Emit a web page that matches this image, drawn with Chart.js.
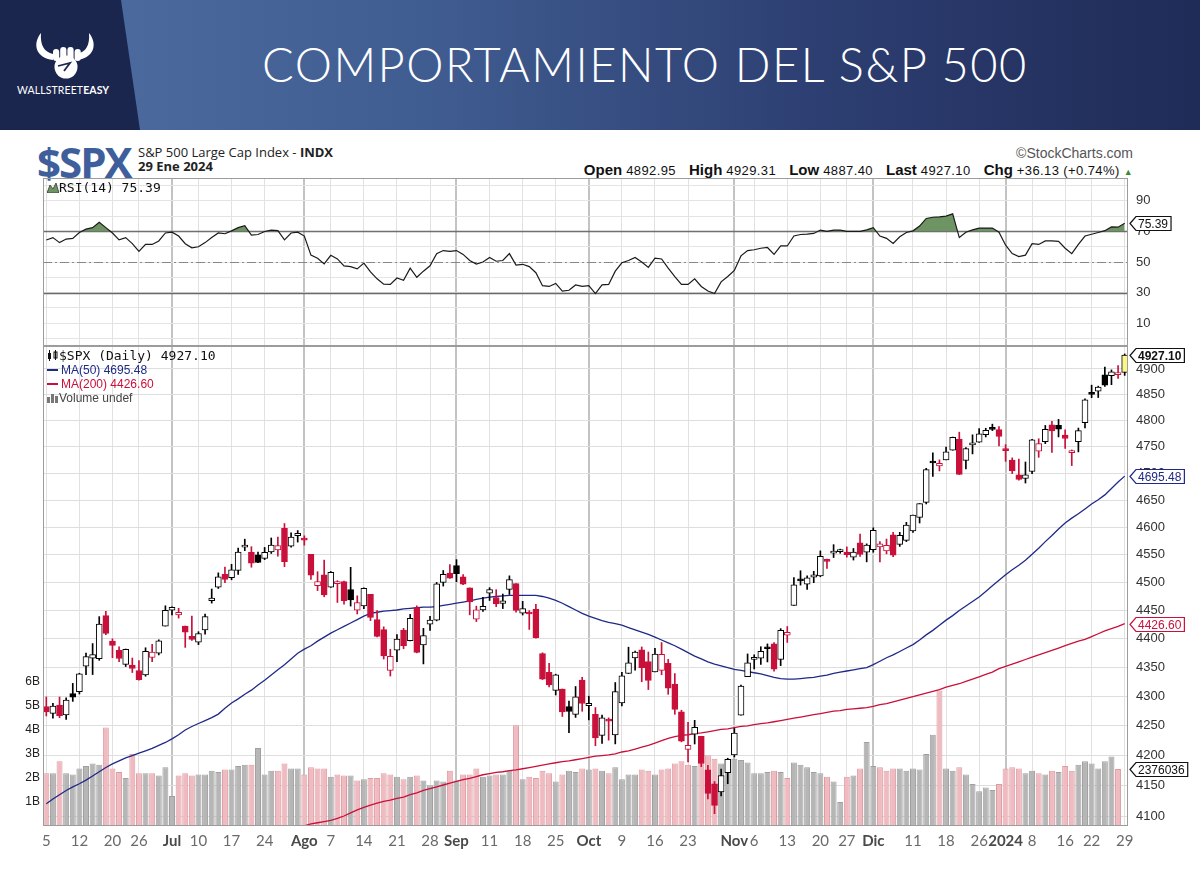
<!DOCTYPE html>
<html>
<head>
<meta charset="utf-8">
<script src="https://cdn.jsdelivr.net/npm/chart.js@4.4.1/dist/chart.umd.min.js"></script>
<style>
  body { margin: 0; width: 1200px; height: 869px; overflow: hidden; background: #fff; position: relative; font-family: "Liberation Sans", Arial, sans-serif; }
  .abs { position: absolute; }
  #hdr { left: 0; top: 0; width: 1200px; height: 130px; background: linear-gradient(90deg, #4f6ea2 0%, #405d91 35%, #2c3d70 70%, #1f2b57 100%); }
  #title { left: 262px; top: 41px; color: #fff; font: 300 47px/47px Lato, "Open Sans", sans-serif; letter-spacing: 1.5px; white-space: nowrap; }
  #brand { left: 17px; top: 84px; color: #fff; font: 10.5px Lato, sans-serif; letter-spacing: 0.1px; }
  #sym { left: 37px; top: 133px; color: #3f5f9c; font: bold 42px "Open Sans", Roboto, sans-serif; letter-spacing: -2px; }
  #name { left: 138px; top: 145px; color: #222; font: 13px "Open Sans", sans-serif; line-height: 14px; }
  #copy { right: 67px; top: 145px; color: #555; font: 14px "Liberation Sans", Arial, sans-serif; }
  #quote { right: 67px; top: 161px; color: #111; font: 13px "Liberation Sans", Arial, sans-serif; letter-spacing: 0.4px; white-space: nowrap; }
  #quote b { font: bold 15px "Liberation Sans", Arial, sans-serif; letter-spacing: 0; margin-left: 9px; }
  .leg { left: 47px; white-space: nowrap; }
  canvas { position: absolute; left: 0; }
</style>
</head>
<body>
<div id="hdr" class="abs">
  <svg width="1200" height="130" style="position:absolute;left:0;top:0">
    <polygon points="0,0 121,0 140,130 0,130" fill="#1b264f"/>
    <path d="M41,33 C32,44 36,58 53,60 L53,54 C44,52 40,45 41,33 Z" fill="#fff"/>
    <path d="M89,33 C98,44 94,58 77,60 L77,54 C86,52 90,45 89,33 Z" fill="#fff"/>
    <rect x="53" y="49" width="6.2" height="12" rx="3" fill="#fff"/>
    <rect x="60.2" y="47" width="6.2" height="14" rx="3" fill="#fff"/>
    <rect x="67.4" y="47" width="6.2" height="14" rx="3" fill="#fff"/>
    <rect x="74.6" y="49" width="6.2" height="12" rx="3" fill="#fff"/>
    <circle cx="66" cy="67" r="11.5" fill="#fff"/>
    <path d="M58,66 L70,63 L64,71" stroke="#1b264f" stroke-width="1.8" fill="none"/>
  </svg>
  <div id="title" class="abs">COMPORTAMIENTO DEL S&amp;P 500</div>
  <div id="brand" class="abs">WALLSTREET<b>EASY</b></div>
</div>

<div id="sym" class="abs">$SPX</div>
<div id="name" class="abs">S&amp;P 500 Large Cap Index - <b>INDX</b><br><b>29 Ene 2024</b></div>
<div id="copy" class="abs">&copy;StockCharts.com</div>
<div id="quote" class="abs"><b>Open</b> 4892.95 <b>High</b> 4929.31 <b>Low</b> 4887.40 <b>Last</b> 4927.10 <b>Chg</b> +36.13 (+0.74%) <span style="color:#3a8a3a;font-size:9px">&#9650;</span></div>

<canvas id="rsiChart" width="1200" height="178" style="top:172px"></canvas>
<canvas id="pxChart" width="1200" height="520" style="top:340px"></canvas>

<div class="abs leg" style="top:180px;font:13px 'DejaVu Sans Mono',monospace;color:#111">
  <svg width="12" height="11" style="vertical-align:-1px"><polygon points="0,11 3,3 6,7 9,1 12,11" fill="#6f9463" stroke="#333" stroke-width="0.8"/></svg>RSI(14) 75.39</div>
<div class="abs leg" style="top:348px;font:13px 'DejaVu Sans Mono',monospace;color:#111">
  <svg width="12" height="11" style="vertical-align:-1px"><rect x="1" y="3" width="3" height="6" fill="#111"/><line x1="2.5" y1="0" x2="2.5" y2="11" stroke="#111"/><rect x="7" y="2" width="3" height="6" fill="#fff" stroke="#111"/><line x1="8.5" y1="0" x2="8.5" y2="10" stroke="#111"/></svg>$SPX (Daily) 4927.10</div>
<div class="abs leg" style="top:363px;font:12px 'Liberation Sans',Arial;color:#1f2a86"><span style="display:inline-block;width:11px;height:2px;background:#1f2a86;vertical-align:3px;margin-right:3px"></span>MA(50) 4695.48</div>
<div class="abs leg" style="top:377px;font:12px 'Liberation Sans',Arial;color:#c9103b"><span style="display:inline-block;width:11px;height:2px;background:#c9103b;vertical-align:3px;margin-right:3px"></span>MA(200) 4426.60</div>
<div class="abs leg" style="top:391px;font:12px 'Liberation Sans',Arial;color:#444">
  <svg width="12" height="10" style="vertical-align:-1px"><rect x="0" y="4" width="3" height="6" fill="#777"/><rect x="4" y="1" width="3" height="9" fill="#777"/><rect x="8" y="3" width="3" height="7" fill="#777"/></svg>Volume undef</div>

<script>
// trading days shown (5 Jun 2023 - 29 Jan 2024)
const dates = [
  '2023-06-05','2023-06-06','2023-06-07','2023-06-08','2023-06-09','2023-06-12','2023-06-13','2023-06-14','2023-06-15','2023-06-16',
  '2023-06-20','2023-06-21','2023-06-22','2023-06-23','2023-06-26','2023-06-27','2023-06-28','2023-06-29','2023-06-30',
  '2023-07-03','2023-07-05','2023-07-06','2023-07-07','2023-07-10','2023-07-11','2023-07-12','2023-07-13','2023-07-14','2023-07-17',
  '2023-07-18','2023-07-19','2023-07-20','2023-07-21','2023-07-24','2023-07-25','2023-07-26','2023-07-27','2023-07-28','2023-07-31',
  '2023-08-01','2023-08-02','2023-08-03','2023-08-04','2023-08-07','2023-08-08','2023-08-09','2023-08-10','2023-08-11','2023-08-14',
  '2023-08-15','2023-08-16','2023-08-17','2023-08-18','2023-08-21','2023-08-22','2023-08-23','2023-08-24','2023-08-25','2023-08-28',
  '2023-08-29','2023-08-30','2023-08-31',
  '2023-09-01','2023-09-05','2023-09-06','2023-09-07','2023-09-08','2023-09-11','2023-09-12','2023-09-13','2023-09-14','2023-09-15',
  '2023-09-18','2023-09-19','2023-09-20','2023-09-21','2023-09-22','2023-09-25','2023-09-26','2023-09-27','2023-09-28','2023-09-29',
  '2023-10-02','2023-10-03','2023-10-04','2023-10-05','2023-10-06','2023-10-09','2023-10-10','2023-10-11','2023-10-12','2023-10-13',
  '2023-10-16','2023-10-17','2023-10-18','2023-10-19','2023-10-20','2023-10-23','2023-10-24','2023-10-25','2023-10-26','2023-10-27',
  '2023-10-30','2023-10-31',
  '2023-11-01','2023-11-02','2023-11-03','2023-11-06','2023-11-07','2023-11-08','2023-11-09','2023-11-10','2023-11-13','2023-11-14',
  '2023-11-15','2023-11-16','2023-11-17','2023-11-20','2023-11-21','2023-11-22','2023-11-24','2023-11-27','2023-11-28','2023-11-29',
  '2023-11-30',
  '2023-12-01','2023-12-04','2023-12-05','2023-12-06','2023-12-07','2023-12-08','2023-12-11','2023-12-12','2023-12-13','2023-12-14',
  '2023-12-15','2023-12-18','2023-12-19','2023-12-20','2023-12-21','2023-12-22','2023-12-26','2023-12-27','2023-12-28','2023-12-29',
  '2024-01-02','2024-01-03','2024-01-04','2024-01-05','2024-01-08','2024-01-09','2024-01-10','2024-01-11','2024-01-12','2024-01-16',
  '2024-01-17','2024-01-18','2024-01-19','2024-01-22','2024-01-23','2024-01-24','2024-01-25','2024-01-26','2024-01-29'
];

const prevClose = 4282.37; // 2 Jun 2023

const opens = [
  4282.99,4271.34,4285.47,4268.69,4304.88,4308.32,4352.61,4366.29,4365.33,4440.95,4396.11,4380.01,4355.40,4354.17,4344.84,4337.36,4367.48,4374.94,4422.44,
  4450.48,4442.04,4422.62,4404.54,4394.23,4415.55,4467.69,4491.50,4514.61,4508.86,4521.78,4563.87,4554.38,4550.16,4543.39,4555.19,4558.96,4598.26,4565.75,4584.82,
  4578.83,4550.93,4494.27,4513.96,4491.58,4498.03,4501.57,4487.16,4450.69,4458.13,4478.87,4433.79,4416.32,4344.88,4380.28,4415.33,4397.00,4455.16,4389.38,4426.03,4432.75,4500.34,4517.01,
  4530.60,4510.06,4490.35,4434.55,4451.30,4480.98,4473.27,4462.65,4487.78,4497.98,4445.13,4445.41,4452.81,4374.36,4341.74,4310.62,4312.88,4282.63,4269.65,4328.18,
  4284.52,4269.75,4233.83,4259.31,4234.79,4289.02,4339.75,4366.59,4380.94,4360.49,4342.37,4345.23,4357.35,4321.36,4273.85,4210.40,4235.79,4232.42,4175.99,4152.93,4139.39,4171.33,
  4201.27,4268.26,4334.23,4364.27,4366.21,4384.37,4391.41,4364.15,4406.66,4458.97,4505.30,4497.08,4509.55,4511.70,4538.77,4553.04,4555.84,4554.86,4545.55,4571.84,4554.87,
  4559.43,4564.37,4557.25,4586.23,4568.84,4576.20,4593.39,4618.30,4646.20,4721.04,4714.23,4725.58,4743.72,4764.73,4724.29,4753.92,4758.86,4773.45,4786.44,4782.88,
  4745.20,4725.07,4697.42,4690.57,4703.70,4741.93,4759.94,4792.13,4791.18,4772.35,4739.13,4760.10,4796.28,4853.42,4856.80,4888.56,4886.66,4888.91,4892.95
];
const highs = [
  4299.28,4288.33,4299.19,4298.01,4322.62,4340.13,4375.37,4391.82,4439.20,4448.47,4400.15,4386.22,4382.25,4366.55,4362.06,4384.42,4390.35,4398.39,4458.48,
  4456.46,4454.06,4422.62,4440.39,4412.60,4443.64,4488.34,4517.38,4527.76,4532.85,4562.30,4578.43,4564.74,4555.00,4563.41,4580.62,4582.47,4607.07,4590.16,4594.22,
  4584.62,4550.93,4519.49,4540.34,4519.84,4503.31,4502.44,4527.37,4476.23,4490.33,4478.87,4449.95,4421.17,4381.82,4407.55,4418.59,4443.18,4458.30,4418.46,4439.56,4500.14,4521.65,4532.26,
  4541.25,4514.29,4490.35,4457.81,4473.53,4490.77,4487.11,4479.39,4511.99,4497.98,4466.36,4449.85,4461.03,4375.70,4357.40,4338.51,4313.01,4292.07,4317.27,4333.15,
  4300.58,4281.15,4268.50,4263.60,4324.10,4341.73,4385.46,4378.64,4385.85,4377.10,4383.33,4393.57,4364.20,4339.54,4276.56,4255.84,4259.38,4232.42,4183.60,4156.70,4177.47,4195.55,
  4245.64,4319.72,4373.62,4372.21,4386.26,4391.20,4393.40,4418.03,4421.76,4508.67,4521.17,4511.99,4520.12,4557.11,4542.14,4568.43,4560.31,4564.37,4561.50,4587.64,4569.89,
  4599.39,4574.06,4578.56,4590.74,4590.92,4609.23,4622.53,4643.93,4709.69,4738.57,4725.53,4749.52,4768.69,4778.01,4748.71,4772.94,4784.72,4785.39,4793.30,4788.43,
  4754.33,4729.29,4726.78,4721.49,4764.54,4765.47,4790.80,4798.50,4802.40,4782.34,4744.23,4785.79,4842.07,4868.41,4866.48,4903.68,4898.15,4906.69,4929.31
];
const lows = [
  4266.82,4263.09,4263.96,4261.07,4291.70,4304.37,4337.71,4337.85,4362.60,4407.44,4367.19,4360.14,4351.82,4341.34,4328.08,4335.00,4360.22,4371.97,4422.44,
  4442.29,4436.61,4385.05,4397.40,4389.92,4408.46,4463.23,4489.36,4499.56,4504.90,4514.59,4557.48,4527.56,4535.79,4541.29,4552.42,4547.58,4528.56,4564.01,4573.14,
  4567.53,4505.75,4485.54,4474.55,4491.15,4464.39,4461.33,4457.92,4443.98,4453.44,4432.19,4403.55,4364.83,4335.31,4360.30,4382.77,4396.44,4375.55,4356.29,4414.98,4431.68,4493.59,4507.39,
  4501.35,4496.01,4442.38,4430.46,4448.38,4467.89,4456.83,4453.52,4478.69,4447.21,4442.11,4416.61,4401.38,4329.17,4316.49,4302.70,4265.98,4238.63,4264.38,4274.86,
  4260.21,4216.45,4220.48,4225.91,4219.55,4283.79,4339.64,4345.34,4325.43,4311.97,4342.37,4337.54,4303.84,4269.69,4223.03,4189.22,4219.43,4181.42,4127.90,4103.78,4132.94,4153.12,
  4197.74,4268.26,4334.23,4347.53,4355.41,4359.76,4343.94,4353.34,4393.82,4458.97,4495.31,4487.83,4499.66,4510.36,4525.51,4545.05,4552.80,4545.80,4540.51,4547.15,4537.24,
  4554.71,4537.21,4551.68,4546.50,4565.22,4574.06,4590.74,4608.09,4643.23,4694.34,4704.69,4725.58,4743.72,4697.82,4708.35,4736.77,4758.45,4768.90,4780.98,4751.99,
  4722.67,4699.71,4687.53,4682.11,4699.82,4730.35,4756.20,4739.58,4768.98,4747.12,4714.82,4740.57,4785.87,4844.05,4844.37,4865.94,4869.34,4881.47,4887.40
];
const closes = [
  4273.79,4283.85,4267.52,4293.93,4298.86,4338.93,4369.01,4372.59,4425.84,4409.59,4388.71,4365.69,4381.89,4348.33,4328.82,4378.41,4376.86,4396.44,4450.38,
  4455.59,4446.82,4411.59,4398.95,4409.53,4439.26,4472.16,4510.04,4505.42,4522.79,4554.98,4565.72,4534.87,4536.34,4554.64,4567.46,4566.75,4537.41,4582.23,4588.96,
  4576.73,4513.39,4501.89,4478.03,4518.44,4499.38,4467.71,4468.83,4464.05,4489.72,4437.86,4404.33,4370.36,4369.71,4399.77,4387.55,4436.01,4376.31,4405.71,4433.31,4497.63,4514.87,4507.66,
  4515.77,4496.83,4465.48,4451.14,4457.49,4487.46,4461.90,4467.44,4505.10,4450.32,4453.53,4443.95,4402.20,4330.00,4320.06,4337.44,4273.53,4274.51,4299.70,4288.05,
  4288.39,4229.45,4263.75,4258.19,4308.50,4335.66,4358.24,4376.95,4349.61,4327.78,4373.63,4373.20,4314.60,4278.00,4224.16,4217.04,4247.68,4186.77,4137.23,4117.37,4166.82,4193.80,
  4237.86,4317.78,4358.34,4365.98,4378.38,4382.78,4347.35,4415.24,4411.55,4495.70,4502.88,4508.24,4514.02,4547.38,4538.19,4556.62,4559.34,4550.43,4554.89,4550.58,4567.80,
  4594.63,4569.78,4567.18,4549.34,4585.59,4604.37,4622.44,4643.70,4707.09,4719.55,4719.19,4740.56,4768.37,4698.35,4746.75,4754.63,4774.75,4781.58,4783.35,4769.83,
  4742.83,4704.81,4688.68,4697.24,4763.54,4756.50,4783.45,4780.24,4783.83,4765.98,4739.21,4780.94,4839.81,4850.43,4864.60,4868.55,4894.16,4890.97,4927.10
];

// volume, billions of shares (last day undefined)
const volumes = [
  2.2,2.2,2.7,2.2,2.15,2.4,2.5,2.6,2.55,4.1,2.4,2.25,2.0,3.0,2.2,2.2,2.2,2.1,2.45,
  1.25,2.1,2.2,2.1,2.15,2.15,2.3,2.25,2.35,2.35,2.5,2.55,2.55,3.25,2.15,2.3,2.3,2.6,2.4,2.4,
  2.15,2.45,2.4,2.4,2.05,2.15,2.1,2.1,1.9,1.95,2.0,2.0,2.2,2.15,2.05,1.95,2.05,2.1,1.9,1.7,1.9,1.85,2.3,
  1.9,2.15,2.15,2.4,2.05,2.1,2.15,2.15,2.3,4.2,1.95,2.05,2.0,2.3,2.2,1.85,2.15,2.3,2.25,2.4,
  2.35,2.4,2.3,2.2,2.45,1.95,2.15,2.15,2.35,2.3,2.15,2.35,2.4,2.6,2.7,2.55,2.5,2.65,2.95,2.8,2.6,2.55,
  2.8,2.75,2.65,2.2,2.2,2.25,2.3,2.25,2.0,2.65,2.55,2.45,2.25,2.2,2.05,1.85,1.0,2.05,2.1,2.4,3.5,
  2.5,2.45,2.3,2.4,2.4,2.3,2.4,2.35,3.0,3.8,5.65,2.4,2.3,2.45,2.15,1.75,1.45,1.6,1.5,1.75,
  2.4,2.45,2.4,2.2,2.3,2.2,2.15,2.3,2.25,2.5,2.3,2.55,2.7,2.6,2.4,2.7,2.9,2.376,null
];

const rsi14 = [
  64.4,66,62.7,65,65.5,69.3,71.5,72.5,76,72.5,69,64.5,66,62,57,61.5,61.5,63.8,69,
  69.5,67,62,59.3,60,62.7,66,69,68.5,70.4,72.5,73.8,67.6,68,70,70.9,70.6,64.5,69,69.5,
  67,54.5,52.5,48.7,54.4,52,47.5,47,45.5,49.3,43.5,39,35.5,35.3,39.5,38,46,40,44,47.5,55.5,57.5,57,
  57.5,55,51,48.7,50,53,50.5,51,55.5,48,48.5,47,43,34.5,34,36,30.9,31.5,35,34,
  34.5,29.3,35,35.3,44,49.5,51,53,50,46.5,52.5,52,46,40.5,35.3,35.3,39,34,31,29.3,37,40.5,
  44.5,54,57.5,58,59,59.5,55,60.5,60.5,67,68,68.2,68.7,70.9,70,70.9,70.9,70,70,70,71,
  72.5,67,65.5,62.2,66.5,69.3,70.4,73.5,78.5,79.3,79.5,80,81.5,66,69.5,71,72.2,72.2,72.2,69.5,
  61,55.5,53.5,54.5,62,61.5,63.8,63.8,63.5,59,55.5,61.5,67,68.2,69.3,70.5,73,72.8,75.39
];

const ma50 = [
  4120,4128,4135,4142,4148,4153,4159,4166,4173,4180,4186,4191,4196,4200,4204,4208,4212,4217,4222,
  4228,4235,4243,4249,4254,4259,4264,4270,4280,4289,4296,4304,4311,4320,4328,4337,4346,4355,4365,4375,
  4382,4388,4396,4403,4410,4416,4422,4428,4434,4440,4445,4447,4449,4450,4451,4453,4454,4455,4456,4456,4457,4459,4461,
  4463,4465,4467,4470,4472,4474,4475,4476,4477,4477,4477,4477,4477,4475,4472,4468,4463,4457,4451,4445,
  4440,4436,4432,4429,4427,4424,4420,4416,4412,4408,4403,4398,4393,4388,4382,4376,4370,4365,4360,4356,4353,4350,
  4347,4345,4343,4341,4339,4336,4333,4331,4330,4330,4331,4332,4333,4335,4337,4340,4342,4344,4346,4348,4350,
  4355,4361,4367,4372,4378,4384,4390,4398,4407,4415,4424,4433,4441,4450,4458,4466,4474,4484,4494,4504,
  4514,4523,4531,4540,4551,4562,4574,4585,4597,4608,4617,4625,4634,4643,4651,4660,4672,4684,4695
];

const ma200 = [
  null,null,null,null,null,null,null,null,null,null,null,null,null,null,null,null,null,null,null,
  null,null,null,null,null,null,null,null,null,null,null,null,null,null,null,null,null,4076,4078,4081,
  4084,4087,4089,4091,4093,4096,4100,4105,4110,4114,4118,4121,4124,4126,4129,4131,4135,4138,4142,4145,4148,4151,4154,
  4157,4160,4162,4165,4168,4170,4172,4173,4175,4176,4178,4180,4182,4184,4186,4188,4190,4191,4193,4195,
  4197,4199,4200,4201,4203,4206,4208,4211,4214,4217,4221,4225,4229,4232,4234,4235,4237,4238,4240,4242,4244,4245,
  4247,4249,4250,4252,4254,4255,4257,4259,4261,4263,4265,4267,4269,4271,4273,4275,4276,4278,4279,4280,4281,
  4283,4286,4288,4291,4294,4297,4300,4303,4306,4309,4312,4316,4319,4322,4326,4330,4334,4338,4342,4348,
  4352,4356,4360,4364,4368,4372,4376,4380,4384,4388,4392,4396,4399,4404,4409,4414,4418,4422,4427
];

// x axis labels (weeks and months, as printed)
const tickDates = ['2023-06-05','2023-06-12','2023-06-20','2023-06-26','2023-07-03','2023-07-10','2023-07-17','2023-07-24',
  '2023-08-01','2023-08-07','2023-08-14','2023-08-21','2023-08-28','2023-09-01','2023-09-11','2023-09-18','2023-09-25',
  '2023-10-02','2023-10-09','2023-10-16','2023-10-23','2023-11-01','2023-11-06','2023-11-13','2023-11-20','2023-11-27',
  '2023-12-01','2023-12-11','2023-12-18','2023-12-26','2024-01-02','2024-01-08','2024-01-16','2024-01-22','2024-01-29'];
const tickNames = ['5','12','20','26','Jul','10','17','24','Ago','7','14','21','28','Sep','11','18','25',
  'Oct','9','16','23','Nov','6','13','20','27','Dic','11','18','26','2024','8','16','22','29'];
const monthNames = ['Jul','Ago','Sep','Oct','Nov','Dic','2024'];

const priceTicks = [4100,4150,4200,4250,4300,4350,4400,4450,4500,4550,4600,4650,4700,4750,4800,4850,4900];
const rsiGrid = [0,10,20,30,40,50,60,70,80,90,100];
const rsiTicks = [10,30,50,70,90];
const volTicks = [1,2,3,4,5,6];

// colours per day: black = up vs previous close, red = down; hollow when close > open
const RED = '#c9103b';
const upDay = closes.map((c, i) => c >= (i ? closes[i - 1] : prevClose));
const candleColor = upDay.map(u => (u ? '#000' : RED));
const bodyFill = closes.map((c, i) => {
  if (i === closes.length - 1) return '#fbf58a';
  return c < opens[i] ? candleColor[i] : '#fff';
});

// name printed under a day (by data index), or null
function tickName(i) {
  const k = tickDates.indexOf(dates[i]);
  return k < 0 ? null : tickNames[k];
}
const isMonth = ctx => monthNames.includes(tickName(ctx.tick ? ctx.tick.value : -1));

const xGrid = {
  offset: false,
  drawTicks: false,
  color: ctx => {
    const n = tickName(ctx.tick ? ctx.tick.value : -1);
    if (!n) return 'rgba(0,0,0,0)';
    return monthNames.includes(n) ? '#c3c3c3' : '#e1e1e1';
  },
  lineWidth: ctx => (isMonth(ctx) ? 2 : 1)
};

function noPad(s) {
  s.paddingTop = 0;
  s.paddingBottom = 0;
  s.paddingLeft = 0;
  s.paddingRight = 0;
}

// panel frame
const frame = {
  id: 'frame',
  afterDraw(chart) {
    const a = chart.chartArea, c = chart.ctx;
    c.save();
    c.strokeStyle = '#9c9c9c';
    c.lineWidth = 1;
    c.strokeRect(a.left + 0.5, a.top + 0.5, a.right - a.left - 1, a.bottom - a.top - 1);
    c.restore();
  }
};

// boxed last-value tags on the right axis
const valueTags = {
  id: 'valueTags',
  afterDraw(chart, args, opts) {
    const c = chart.ctx, x = chart.chartArea.right + 2;
    (opts.items || []).forEach(t => {
      const y = Math.round(chart.scales[t.axis].getPixelForValue(t.value)) + 0.5;
      c.save();
      c.font = (t.bold ? 'bold ' : '') + '12px "Liberation Sans", Arial, sans-serif';
      const w = c.measureText(t.text).width + 5;
      c.beginPath();
      c.moveTo(x, y);
      c.lineTo(x + 6, y - 7);
      c.lineTo(x + 6 + w, y - 7);
      c.lineTo(x + 6 + w, y + 7);
      c.lineTo(x + 6, y + 7);
      c.closePath();
      c.fillStyle = '#fff';
      c.fill();
      c.strokeStyle = t.color;
      c.lineWidth = 1.2;
      c.stroke();
      c.fillStyle = t.color;
      c.textBaseline = 'middle';
      c.fillText(t.text, x + 8, y + 1);
      c.restore();
    });
  }
};

// RSI reference lines 70 / 50 / 30
const rsiLines = {
  id: 'rsiLines',
  beforeDatasetsDraw(chart) {
    const c = chart.ctx, a = chart.chartArea, s = chart.scales.y;
    c.save();
    [[70, []], [30, []], [50, [9, 3, 2, 3]]].forEach(([v, dash]) => {
      const y = Math.round(s.getPixelForValue(v)) + 0.5;
      c.setLineDash(dash);
      c.strokeStyle = v === 50 ? '#888' : '#6a6a6a';
      c.lineWidth = v === 50 ? 1 : 1.3;
      c.beginPath();
      c.moveTo(a.left, y);
      c.lineTo(a.right, y);
      c.stroke();
    });
    c.restore();
  }
};

Chart.defaults.font.family = '"Liberation Sans", Arial, sans-serif';

new Chart(document.getElementById('rsiChart'), {
  type: 'line',
  data: {
    labels: dates,
    datasets: [{
      label: 'RSI(14)',
      data: rsi14,
      borderColor: '#1a1a1a',
      borderWidth: 1.2,
      pointRadius: 0,
      tension: 0,
      fill: { target: { value: 70 }, above: '#6f9463', below: 'rgba(0,0,0,0)' }
    }]
  },
  options: {
    responsive: false,
    animation: false,
    layout: { padding: { top: 6, bottom: 4, left: 43, right: 0 } },
    plugins: {
      legend: { display: false },
      tooltip: { enabled: false },
      valueTags: { items: [{ axis: 'y', value: 75.39, text: '75.39', color: '#111' }] }
    },
    scales: {
      x: {
        type: 'category',
        offset: true,
        grid: xGrid,
        border: { display: false },
        ticks: { display: false, autoSkip: false },
        afterFit: s => { s.height = 0; noPad(s); }
      },
      y: {
        position: 'right',
        min: -5,
        max: 105,
        afterBuildTicks: s => { s.ticks = rsiGrid.map(v => ({ value: v })); },
        grid: { color: '#e4e4e4', drawTicks: false },
        border: { display: false },
        ticks: {
          autoSkip: false,
          padding: 8,
          color: '#333',
          font: { size: 13 },
          callback: v => (rsiTicks.includes(v) ? String(v) : '')
        },
        afterFit: s => { s.width = 72; noPad(s); }
      }
    }
  },
  plugins: [rsiLines, frame, valueTags]
});

new Chart(document.getElementById('pxChart'), {
  type: 'bar',
  data: {
    labels: dates,
    datasets: [
      {
        type: 'bar',
        label: 'Volume',
        data: volumes,
        yAxisID: 'vol',
        backgroundColor: upDay.map(u => (u ? '#b6b6b6' : '#efbac0')),
        borderColor: upDay.map(u => (u ? '#a0a0a0' : '#dd9ca3')),
        borderWidth: 1,
        categoryPercentage: 1,
        barPercentage: 0.9,
        grouped: false,
        order: 5
      },
      {
        type: 'line',
        label: 'MA(200)',
        data: ma200,
        yAxisID: 'y',
        borderColor: RED,
        borderWidth: 1.3,
        pointRadius: 0,
        order: 4
      },
      {
        type: 'line',
        label: 'MA(50)',
        data: ma50,
        yAxisID: 'y',
        borderColor: '#1f2a86',
        borderWidth: 1.3,
        pointRadius: 0,
        order: 3
      },
      {
        type: 'bar',
        label: 'High-Low',
        data: highs.map((h, i) => [lows[i], h]),
        yAxisID: 'y',
        backgroundColor: candleColor,
        barThickness: 1,
        grouped: false,
        order: 2
      },
      {
        type: 'bar',
        label: 'Open-Close',
        data: opens.map((o, i) => [o, closes[i]]),
        yAxisID: 'y',
        backgroundColor: bodyFill,
        borderColor: candleColor,
        borderWidth: 1,
        borderSkipped: false,
        barThickness: 6,
        minBarLength: 2,
        grouped: false,
        order: 1
      }
    ]
  },
  options: {
    responsive: false,
    animation: false,
    layout: { padding: { top: 6, bottom: 0, left: 0, right: 0 } },
    plugins: {
      legend: { display: false },
      tooltip: { enabled: false },
      valueTags: {
        items: [
          { axis: 'y', value: 4927.10, text: '4927.10', color: '#111', bold: true },
          { axis: 'y', value: 4695.48, text: '4695.48', color: '#1f2a86' },
          { axis: 'y', value: 4426.60, text: '4426.60', color: RED },
          { axis: 'vol', value: 2.376, text: '2376036', color: '#111' }
        ]
      }
    },
    scales: {
      x: {
        type: 'category',
        offset: true,
        grid: xGrid,
        border: { display: false },
        ticks: {
          autoSkip: false,
          maxRotation: 0,
          padding: 6,
          color: ctx => (isMonth(ctx) ? '#4a4a4a' : '#6a6a6a'),
          font: ctx => ({ family: 'Lato, "Open Sans", sans-serif', size: 15, weight: isMonth(ctx) ? 'bold' : 'normal' }),
          callback: v => tickName(v)
        },
        afterFit: s => { s.height = 34; noPad(s); }
      },
      y: {
        type: 'logarithmic',
        position: 'right',
        min: 4083.7,
        max: 4945,
        bounds: 'data',
        afterBuildTicks: s => { s.ticks = priceTicks.map(v => ({ value: v })); },
        grid: { color: '#dedede', drawTicks: false },
        border: { display: false },
        ticks: { autoSkip: false, padding: 8, color: '#333', font: { size: 13 }, callback: v => String(v) },
        afterFit: s => { s.width = 72; noPad(s); }
      },
      vol: {
        type: 'linear',
        position: 'left',
        min: 0,
        max: 20,
        afterBuildTicks: s => { s.ticks = volTicks.map(v => ({ value: v })); },
        grid: { display: false, drawTicks: false },
        border: { display: false },
        ticks: { autoSkip: false, padding: 3, color: '#222', font: { size: 12 }, callback: v => v + 'B' },
        afterFit: s => { s.width = 43; noPad(s); }
      }
    }
  },
  plugins: [frame, valueTags]
});
</script>
</body>
</html>
